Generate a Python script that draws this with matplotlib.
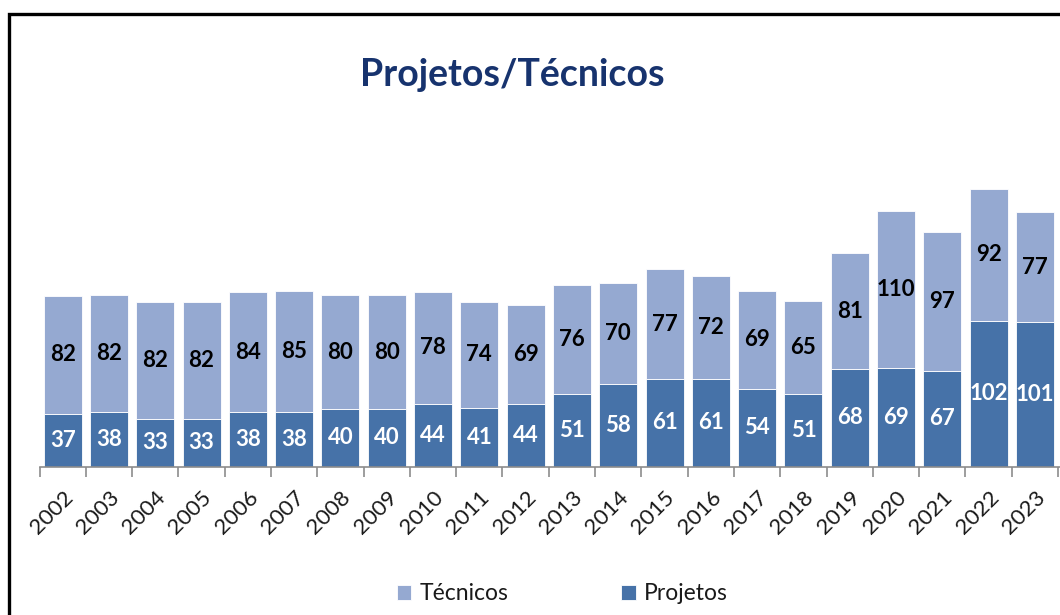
import matplotlib.pyplot as plt
from matplotlib.patches import Rectangle
import numpy as np

plt.rcParams['font.family'] = ['Lato', 'DejaVu Sans']

years = ["2002", "2003", "2004", "2005", "2006", "2007", "2008", "2009", "2010", "2011", "2012",
         "2013", "2014", "2015", "2016", "2017", "2018", "2019", "2020", "2021", "2022", "2023"]
projetos = [37, 38, 33, 33, 38, 38, 40, 40, 44, 41, 44, 51, 58, 61, 61, 54, 51, 68, 69, 67, 102, 101]
tecnicos = [82, 82, 82, 82, 84, 85, 80, 80, 78, 74, 69, 76, 70, 77, 72, 69, 65, 81, 110, 97, 92, 77]

c_proj = "#4672A8"
c_tec = "#95A9D1"

W, H = 1060, 615
fig = plt.figure(figsize=(W / 100, H / 100), dpi=100)

# plot area in pixels: left 39.5, baseline 466.5, 46.3 px per category, 1.43 px per unit
step = 46.3
x_left = 39.5
base = 466.5
top = 150
ax = fig.add_axes([x_left / W, (H - base) / H, 23 * step / W, (base - top) / H])
ax.set_xlim(-0.5, 22.5)
ax.set_ylim(0, (base - top) / 1.43)

x = np.arange(len(years))
b1 = ax.bar(x, projetos, width=0.82, color=c_proj, edgecolor="white", linewidth=0.6, label="Projetos")
b2 = ax.bar(x, tecnicos, width=0.82, bottom=projetos, color=c_tec, edgecolor="white", linewidth=0.6,
            label="Técnicos")

for i in range(len(years)):
    ax.text(x[i], projetos[i] / 2, str(projetos[i]), ha="center", va="center",
            color="white", fontsize=16, fontweight="bold")
    ax.text(x[i], projetos[i] + tecnicos[i] / 2, str(tecnicos[i]), ha="center", va="center",
            color="black", fontsize=16, fontweight="bold")

for s in ["top", "right", "left"]:
    ax.spines[s].set_visible(False)
ax.spines["bottom"].set_color("#8c8c8c")
ax.spines["bottom"].set_linewidth(1.2)
ax.set_yticks([])
ax.set_xticks(x)
ax.set_xticklabels(years, rotation=45, ha="right", rotation_mode="anchor", fontsize=16, color="#1a1a1a")
ax.tick_params(axis="x", which="major", length=0, pad=15)
ax.set_xticks(np.arange(-0.5, 22.5, 1), minor=True)
ax.tick_params(axis="x", which="minor", length=7, width=1.2, color="#8c8c8c")

fig.text(512 / W, 1 - 75 / H, "Projetos/Técnicos", ha="center", va="center",
         fontsize=27, fontweight="bold", color="#17336E")

fig.legend([b2, b1], ["Técnicos", "Projetos"], loc="center", bbox_to_anchor=(562 / W, 1 - 594 / H),
           ncol=2, frameon=False, fontsize=16.5, handlelength=0.65, handleheight=0.65,
           handletextpad=0.35, columnspacing=4.9, labelcolor="#1a1a1a")

fig.patches.append(Rectangle((9.2 / W, -0.1), 1.2, 1.1 - 13.8 / H, transform=fig.transFigure,
                             fill=False, edgecolor="black", linewidth=2.4))

fig.savefig("out.png", dpi=100)
